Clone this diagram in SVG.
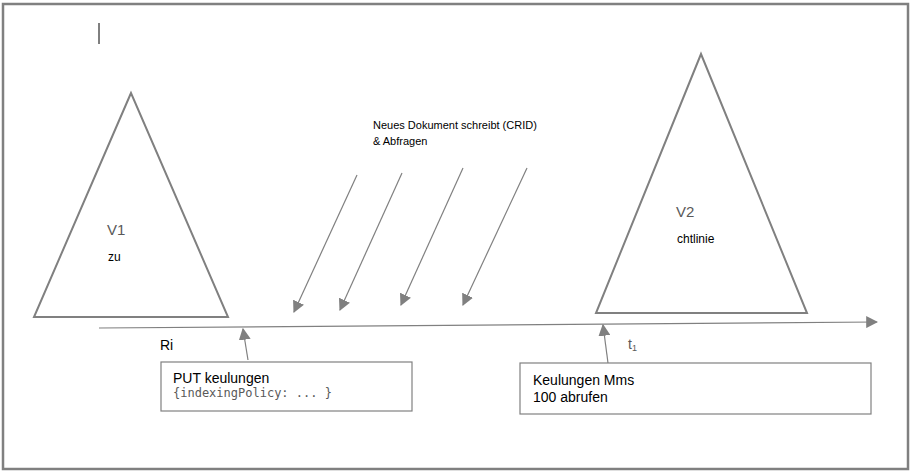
<svg xmlns="http://www.w3.org/2000/svg" width="914" height="473" viewBox="0 0 914 473">
<style>
.s{fill:none;stroke:#808080;stroke-width:2}
.c{fill:none;stroke:#808080;stroke-width:1.2}
.box{fill:#fff;stroke:#808080;stroke-width:1.2}
.t{font-family:"Liberation Sans",Arial,sans-serif;fill:#000}
.g{font-family:"Liberation Sans",Arial,sans-serif;fill:#595959}
.m{font-family:"DejaVu Sans Mono","Liberation Mono",monospace;fill:#595959}
</style>
<defs>
<marker id="ah" viewBox="0 0 10 10" refX="9" refY="5" markerWidth="12" markerHeight="12" markerUnits="userSpaceOnUse" orient="auto">
<path d="M0,0 L10,5 L0,10 z" fill="#808080"/>
</marker>
</defs>
<rect x="3" y="4" width="905" height="465" fill="#fff" stroke="#808080" stroke-width="2.5"/>
<line x1="99" y1="23" x2="99" y2="44" stroke="#000" stroke-width="1"/>
<g id="v1">
<polygon class="s" points="131,93 34,317 228,317"/>
<text class="g" x="107" y="235" font-size="15">V1</text>
<text class="t" x="108" y="261" font-size="12">zu</text>
</g>
<g id="v2">
<polygon class="s" points="701,54 596,313 807,313"/>
<text class="g" x="676" y="217" font-size="15">V2</text>
<text class="t" x="677" y="243" font-size="12">chtlinie</text>
</g>
<g id="writes">
<text class="t" x="373" y="129" font-size="11">Neues Dokument schreibt (CRID)</text>
<text class="t" x="373" y="145" font-size="11">&amp; Abfragen</text>
</g>
<g id="box1">
<rect class="box" x="161" y="362" width="251" height="49"/>
<text class="t" x="173" y="383" font-size="14">PUT keulungen</text>
<text class="m" x="173" y="397" font-size="12">{indexingPolicy: ... }</text>
</g>
<g id="box2">
<rect class="box" x="520" y="363" width="351" height="51"/>
<text class="t" x="533" y="385" font-size="14">Keulungen Mms</text>
<text class="t" x="533" y="402" font-size="14">100 abrufen</text>
</g>
<g id="labels">
<text class="t" x="160" y="350" font-size="14">Ri</text>
<text class="g" x="628" y="349" font-size="14">t<tspan font-size="9" dy="2">1</tspan></text>
</g>
<g id="connectors">
<line class="c" x1="99" y1="328" x2="877" y2="322" marker-end="url(#ah)"/>
<line class="c" x1="357" y1="175" x2="294" y2="312" marker-end="url(#ah)"/>
<line class="c" x1="402" y1="173" x2="340" y2="310" marker-end="url(#ah)"/>
<line class="c" x1="463" y1="168" x2="401" y2="305" marker-end="url(#ah)"/>
<line class="c" x1="527" y1="168" x2="463" y2="305" marker-end="url(#ah)"/>
<line class="c" x1="248" y1="360" x2="243" y2="329" marker-end="url(#ah)"/>
<line class="c" x1="608" y1="363" x2="603" y2="325" marker-end="url(#ah)"/>
</g>
</svg>
